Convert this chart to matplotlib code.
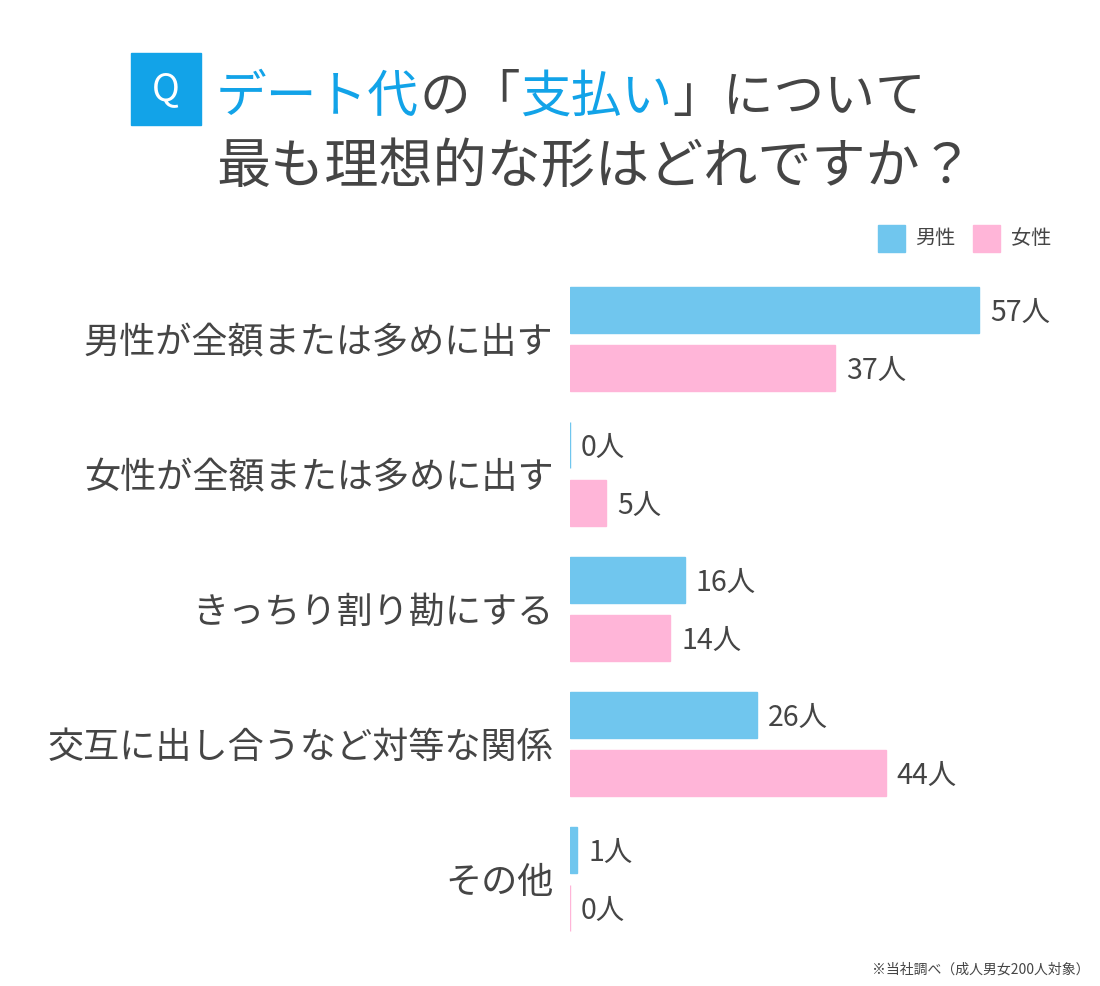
import matplotlib.pyplot as plt
import numpy as np

plt.rcParams['font.family'] = ['Noto Sans CJK JP', 'DejaVu Sans']

categories = ['男性が全額または多めに出す', '女性が全額または多めに出す',
              'きっちり割り勘にする', '交互に出し合うなど対等な関係', 'その他']
male = [57, 0, 16, 26, 1]
female = [37, 5, 14, 44, 0]

blue = '#70c6ee'
pink = '#ffb5d8'
dark = '#454545'
qblue = '#12a3e8'

W, H = 1100, 986
fig = plt.figure(figsize=(W / 100, H / 100), dpi=100)
fig.patch.set_facecolor('white')

# axes placed in pixel terms: bars start at x=570, category 0 centre at y=339, 135px per category
top_px, bot_px = 270, 945
ax = fig.add_axes([570 / W, 1 - bot_px / H, (W - 570) / W, (bot_px - top_px) / H])
ax.set_xlim(0, 530 / 7.175)
ax.set_ylim((bot_px - 339) / 135, (top_px - 339) / 135)

y = np.arange(len(categories))
off = 0.213
h = 0.34
ax.barh(y - off, male, height=h, color=blue, edgecolor=blue, linewidth=1)
ax.barh(y + off, female, height=h, color=pink, edgecolor=pink, linewidth=1)

for yi, v in zip(y - off, male):
    ax.annotate(f'{v}人', (v, yi), xytext=(8, -2), textcoords='offset points',
                va='center', ha='left', fontsize=20.5, color=dark)
for yi, v in zip(y + off, female):
    ax.annotate(f'{v}人', (v, yi), xytext=(8, -2), textcoords='offset points',
                va='center', ha='left', fontsize=20.5, color=dark)

ax.set_yticks(y)
ax.set_yticklabels(categories, fontsize=26, color=dark)
ax.tick_params(axis='y', length=0, pad=12)
ax.set_xticks([])
for s in ax.spines.values():
    s.set_visible(False)

# Q box
fig.patches.append(plt.Rectangle((131 / W, 1 - 125 / H), 70 / W, 72 / H,
                                 transform=fig.transFigure, color=qblue))
fig.text(166 / W, 1 - 90 / H, 'Q', ha='center', va='center', fontsize=27,
         color='white')

# title, mixed colours
renderer = fig.canvas.get_renderer()
x = 216 / W
for part, col in [('デート代', qblue), ('の「', dark), ('支払い', qblue), ('」について', dark)]:
    t = fig.text(x, 1 - 112 / H, part, fontsize=36.5, color=col, va='baseline', ha='left')
    bb = t.get_window_extent(renderer)
    x = bb.x1 / W
fig.text(216 / W, 1 - 183 / H, '最も理想的な形はどれですか？', fontsize=39,
         color=dark, va='baseline', ha='left')

# legend
fig.patches.append(plt.Rectangle((878 / W, 1 - 252 / H), 27 / W, 27 / H,
                                 transform=fig.transFigure, color=blue))
fig.text(915 / W, 1 - 238 / H, '男性', fontsize=14.5, color=dark, va='center')
fig.patches.append(plt.Rectangle((973 / W, 1 - 252 / H), 27 / W, 27 / H,
                                 transform=fig.transFigure, color=pink))
fig.text(1011 / W, 1 - 238 / H, '女性', fontsize=14.5, color=dark, va='center')

# footnote
fig.text(1090 / W, 1 - 970 / H, '※当社調べ（成人男女200人対象）', fontsize=10,
         color=dark, ha='right', va='center')

fig.savefig('out.png', dpi=100, facecolor='white')
